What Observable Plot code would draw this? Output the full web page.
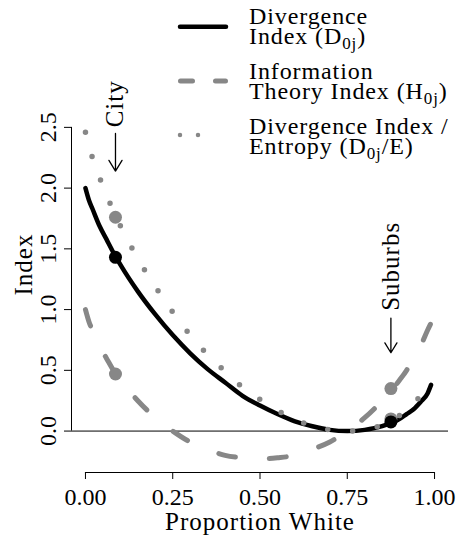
<!DOCTYPE html>
<html>
<head>
<meta charset="utf-8">
<script src="https://cdn.jsdelivr.net/npm/d3@7"></script>
<script src="https://cdn.jsdelivr.net/npm/@observablehq/plot@0.6"></script>
<style>
  html, body { margin: 0; padding: 0; background: #fff; }
  #wrap { position: relative; width: 460px; height: 540px; font-family: "Liberation Serif"; }
  #legend { position: absolute; left: 0; top: 0; width: 460px; height: 170px; }
  .lt { position: absolute; left: 249px; font-size: 24px; letter-spacing: 0.9px; line-height: 20px; white-space: nowrap; font-family: "Liberation Serif"; color: #000; }
  .lt sub { font-size: 17px; vertical-align: -5px; line-height: 0; }
</style>
</head>
<body>
<div id="wrap"></div>
<script>
// ---- Data ----
const proportion = [0, 0.01, 0.02, 0.04, 0.06, 0.08, 0.10, 0.15, 0.20, 0.25, 0.30, 0.35, 0.40, 0.45, 0.50,
                    0.55, 0.60, 0.65, 0.70, 0.75, 0.80, 0.85, 0.90, 0.92, 0.94, 0.96, 0.98, 0.99];
const divergence = [2.00, 1.90, 1.83, 1.69, 1.58, 1.47, 1.37, 1.15, 0.96, 0.79, 0.64, 0.51, 0.40, 0.29, 0.21,
                    0.14, 0.08, 0.04, 0.01, 0.00, 0.01, 0.04, 0.10, 0.14, 0.18, 0.24, 0.31, 0.38];
const infoTheory = [1.00, 0.90, 0.83, 0.70, 0.60, 0.50, 0.42, 0.25, 0.11, 0.00, -0.09, -0.15, -0.20, -0.22, -0.23,
                    -0.22, -0.20, -0.15, -0.09, 0.00, 0.11, 0.25, 0.42, 0.50, 0.60, 0.70, 0.83, 0.89];
const divEntropy = [2.46, 2.35, 2.25, 2.09, 1.95, 1.81, 1.69, 1.42, 1.19, 0.98, 0.79, 0.63, 0.49, 0.36, 0.26,
                    0.17, 0.10, 0.04, 0.01, 0.00, 0.01, 0.05, 0.13, 0.17, 0.23, 0.29, 0.38, 0.43];

const placeLabels = ["City", "Suburbs"];
const placeX = [0.086, 0.875];
const placeDivergence = [1.43, 0.075];
const placeInfoTheory = [0.47, 0.35];
const placeDivEntropy = [1.76, 0.10];
const labelY = [2.50, 0.99];
const arrowFrom = [2.45, 0.93];
const arrowTo = [2.14, 0.645];

const xTicks = [0, 0.25, 0.5, 0.75, 1];
const yTicks = [0, 0.5, 1, 1.5, 2, 2.5];

const legendLines = [
  ["Divergence", "Index (D", "0j", ")"],
  ["Information", "Theory Index (H", "0j", ")"],
  ["Divergence Index /", "Entropy (D", "0j", "/E)"]
];
const legendStyles = ["solid", "dashed", "dotted"];

// ---- Build chart ----
const gray = "#878787";
const xDomain = [-0.04, 1.04];
const yDomain = [-0.341, 2.573];
const rows = proportion.map((p, i) => ({p, d: divergence[i], h: infoTheory[i], de: divEntropy[i]}));
const idx = placeLabels.map((_, i) => i);

const chart = Plot.plot({
  width: 460,
  height: 540,
  marginLeft: 71,
  marginRight: 12,
  marginTop: 118,
  marginBottom: 68,
  x: {domain: xDomain},
  y: {domain: yDomain},
  style: {fontFamily: "Liberation Serif", fontSize: "24px", background: "white", color: "black", overflow: "visible"},
  marks: [
    Plot.ruleY([0], {stroke: "black", strokeWidth: 1}),
    Plot.line(rows, {x: "p", y: "d", stroke: "black", strokeWidth: 4.5, curve: "monotone-x"}),
    Plot.line(rows, {x: "p", y: "h", stroke: gray, strokeWidth: 5, strokeDasharray: "17 34", strokeLinecap: "round", curve: "monotone-x"}),
    Plot.line(rows, {x: "p", y: "de", stroke: gray, strokeWidth: 5.5, strokeDasharray: "0 25", strokeLinecap: "round", curve: "monotone-x"}),
    Plot.dot(idx, {x: i => placeX[i], y: i => placeInfoTheory[i], r: 6.5, fill: gray}),
    Plot.dot(idx, {x: i => placeX[i], y: i => placeDivEntropy[i], r: 6.5, fill: gray}),
    Plot.dot(idx, {x: i => placeX[i], y: i => placeDivergence[i], r: 6.5, fill: "black"}),
    Plot.arrow(idx, {x1: i => placeX[i], x2: i => placeX[i], y1: i => arrowFrom[i], y2: i => arrowTo[i],
      stroke: "black", strokeWidth: 1.3, headLength: 15, headAngle: 63}),
    Plot.text(idx, {x: i => placeX[i], y: i => labelY[i], text: i => placeLabels[i], rotate: -90,
      textAnchor: "start", lineAnchor: "middle", fontSize: 25, fill: "black"}),
    Plot.axisX({ticks: xTicks, tickFormat: d3.format(".2f"), tickSize: 7, tickPadding: 8, label: null}),
    Plot.ruleY([yDomain[0]], {x1: xTicks[0], x2: xTicks[xTicks.length - 1], stroke: "black", strokeWidth: 1}),
    Plot.axisY({ticks: yTicks, tickFormat: d3.format(".1f"), tickSize: 7, tickPadding: 9, tickRotate: -90, label: null}),
    Plot.ruleX([xDomain[0]], {y1: yTicks[0], y2: yTicks[yTicks.length - 1], stroke: "black", strokeWidth: 1}),
    Plot.text(["Index"], {frameAnchor: "left", dx: -48, rotate: -90, fontSize: 25, fill: "black"}),
    Plot.text(["Proportion White"], {frameAnchor: "bottom", dy: 57, lineAnchor: "bottom", fontSize: 25, fill: "black"})
  ]
});

const svgSel = d3.select(chart);
svgSel.attr("font-family", "Liberation Serif").style("font-family", "Liberation Serif").style("letter-spacing", "1px");
svgSel.selectAll("g, text").attr("font-family", "Liberation Serif");
svgSel.selectAll("g[aria-label$='tick label']").style("letter-spacing", "0px");
document.getElementById("wrap").appendChild(chart);

// ---- Legend (top-right): swatches in SVG, labels as HTML ----
const legDiv = d3.select("#wrap").append("div").attr("id", "legend");
const leg = legDiv.append("svg")
  .attr("width", 460).attr("height", 170)
  .style("position", "absolute").style("left", 0).style("top", 0);

legendLines.forEach((lines, i) => {
  const base = 21.7 + i * 55;
  const sy = [26.7, 81, 135][i];
  const style = legendStyles[i];
  const line = leg.append("line")
    .attr("y1", sy).attr("y2", sy)
    .attr("stroke-linecap", "round");
  if (style === "solid") {
    line.attr("x1", 180).attr("x2", 226).attr("stroke", "black").attr("stroke-width", 4.5);
  } else if (style === "dashed") {
    line.attr("x1", 180.5).attr("x2", 225.5).attr("stroke", gray).attr("stroke-width", 5).attr("stroke-dasharray", "12 23");
  } else {
    line.attr("x1", 180).attr("x2", 216).attr("stroke", gray).attr("stroke-width", 4.5).attr("stroke-dasharray", "0 18");
  }
  const box = legDiv.append("div").attr("class", "lt").style("top", (base - 16) + "px");
  box.append("div").text(lines[0]);
  const second = box.append("div");
  second.append("span").text(lines[1]);
  second.append("sub").text(lines[2]);
  second.append("span").text(lines[3]);
});
</script>
</body>
</html>
